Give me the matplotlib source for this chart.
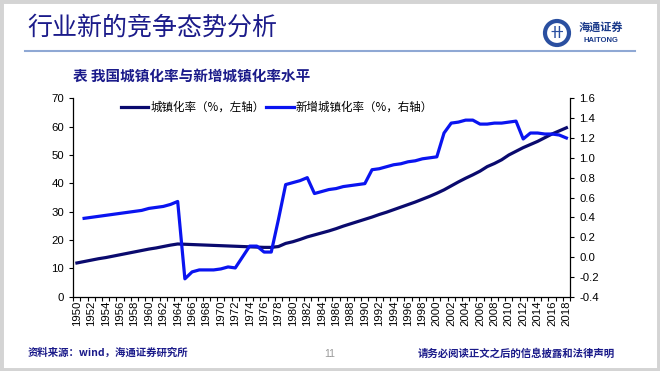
import numpy as np
import matplotlib
matplotlib.use("Agg")
import matplotlib.pyplot as plt
from matplotlib.lines import Line2D
from matplotlib.patches import Rectangle, Ellipse

plt.rcParams['font.family'] = ['Noto Sans CJK SC', 'DejaVu Sans']

# 年份
years = list(range(1950, 2019))

# 城镇化率（%，左轴）
urban_rate = [
    11.9, 12.4, 12.9, 13.4, 13.8, 14.3, 14.8, 15.3, 15.8, 16.3,   # 1950-1959
    16.8, 17.2, 17.7, 18.2, 18.6, 18.5, 18.4, 18.3, 18.2, 18.1,   # 1960-1969
    18.0, 17.9, 17.8, 17.7, 17.6, 17.5, 17.4, 17.4, 17.7, 18.8,   # 1970-1979
    19.4, 20.2, 21.1, 21.8, 22.5, 23.2, 24.0, 24.9, 25.7, 26.5,   # 1980-1989
    27.3, 28.1, 29.0, 29.8, 30.7, 31.6, 32.5, 33.4, 34.4, 35.4,   # 1990-1999
    36.5, 37.7, 39.1, 40.5, 41.8, 43.0, 44.3, 45.9, 47.0, 48.3,   # 2000-2009
    50.0, 51.3, 52.6, 53.7, 54.8, 56.1, 57.4, 58.5, 59.6,         # 2010-2018
]

# 新增城镇化率（%，右轴）
new_rate = [
    np.nan, 0.39, 0.40, 0.41, 0.42, 0.43, 0.44, 0.45, 0.46, 0.47,  # 1950-1959
    0.49, 0.50, 0.51, 0.53, 0.56, -0.22, -0.15, -0.13, -0.13, -0.13,  # 1960-1969
    -0.12, -0.10, -0.11, 0.00, 0.11, 0.11, 0.05, 0.05, 0.38, 0.73,  # 1970-1979
    0.75, 0.77, 0.80, 0.64, 0.66, 0.68, 0.69, 0.71, 0.72, 0.73,  # 1980-1989
    0.74, 0.88, 0.89, 0.91, 0.93, 0.94, 0.96, 0.97, 0.99, 1.00,  # 1990-1999
    1.01, 1.25, 1.35, 1.36, 1.38, 1.38, 1.34, 1.34, 1.35, 1.35,  # 2000-2009
    1.36, 1.37, 1.19, 1.25, 1.25, 1.24, 1.24, 1.23, 1.20,        # 2010-2018
]

navy = "#0a0a6e"
blue = "#0a14f0"
text_navy = "#1b1b8a"

W, H = 660, 371
fig = plt.figure(figsize=(6.6, 3.71), dpi=100)
fig.patch.set_facecolor("white")

# 灰色边框
fig.add_artist(Rectangle((0, 0), 1, 1, transform=fig.transFigure, fill=False,
                         edgecolor="#d4d4d4", linewidth=5))

# 标题
fig.text(27 / W, 1 - 28 / H, "行业新的竞争态势分析", fontsize=18,
         color=text_navy, va="center", ha="left")
fig.add_artist(Line2D([25 / W, 635 / W], [1 - 51 / H, 1 - 51 / H],
                      transform=fig.transFigure, color="#8fa8d4", linewidth=1.5))

# 标志
fig.add_artist(Ellipse((557 / W, 1 - 33 / H), 24 / W, 24 / H, transform=fig.transFigure,
                       facecolor="white", edgecolor="#2a4fa0", linewidth=3))
fig.text(557 / W, 1 - 33 / H, "卄", fontsize=9, color="#2a4fa0", ha="center",
         va="center", fontweight="bold")
fig.text(601 / W, 1 - 27 / H, "海通证券", fontsize=8, color="#1a3a8a",
         ha="center", va="center", style="italic", fontweight="bold")
fig.text(601 / W, 1 - 40 / H, "HAITONG", fontsize=5.5, color="#1a3a8a",
         ha="center", va="center", fontweight="bold", family="Liberation Sans")

# 图表标题
fig.text(73 / W, 1 - 76 / H, "表 我国城镇化率与新增城镇化率水平", fontsize=10.5,
         color=text_navy, va="center", ha="left", fontweight="bold")

# 页脚
fig.text(28 / W, 1 - 353 / H, "资料来源：wind，海通证券研究所", fontsize=7.5,
         color=text_navy, va="center", ha="left", fontweight="bold")
fig.text(330 / W, 1 - 354 / H, "11", fontsize=7.5, color="#999999",
         va="center", ha="center", family="Liberation Sans")
fig.text(615 / W, 1 - 353 / H, "请务必阅读正文之后的信息披露和法律声明", fontsize=7.5,
         color=text_navy, va="center", ha="right", fontweight="bold")

# 主图
ax = fig.add_axes([73.3 / W, 1 - 296.7 / H, (570 - 73.3) / W, (296.7 - 98.3) / H])
ax2 = ax.twinx()

ax.plot(years, urban_rate, color=navy, linewidth=2.3, solid_joinstyle="round")
ax2.plot(years, new_rate, color=blue, linewidth=2.3, solid_joinstyle="round")

ax.set_xlim(1949.5, 2018.5)
ax.set_ylim(0, 70)
ax.set_yticks(range(0, 71, 10))
ax2.set_ylim(-0.4, 1.6)
ax2.set_yticks(np.arange(-0.4, 1.61, 0.2))
ax2.set_yticklabels([f"{v:.1f}" for v in np.arange(-0.4, 1.61, 0.2)])

ax.set_xticks(years[::2])
ax.set_xticklabels([str(y) for y in years[::2]], rotation=90)
ax.set_xticks(np.arange(1949.5, 2019, 1), minor=True)
ax.tick_params(axis="x", which="major", length=0, pad=3)
ax.tick_params(axis="x", which="minor", length=3, direction="out", width=0.8)

for a in (ax, ax2):
    a.spines["top"].set_visible(False)
    for s in a.spines.values():
        s.set_linewidth(0.9)
    a.tick_params(axis="y", length=3, width=0.8, direction="out")
    for lab in a.get_yticklabels() + a.get_xticklabels():
        lab.set_family("Liberation Sans")
        lab.set_fontsize(8.2)
ax2.spines["left"].set_visible(False)
ax2.spines["bottom"].set_visible(False)
ax.spines["right"].set_visible(False)

handles = [Line2D([], [], color=navy, linewidth=2.3),
           Line2D([], [], color=blue, linewidth=2.3)]
ax.legend(handles, ["城镇化率（%，左轴）", "新增城镇化率（%，右轴）"],
          loc="upper center", bbox_to_anchor=(0.41, 1.04), ncol=2, frameon=False,
          fontsize=8.3, handlelength=2.4, handletextpad=0.2, columnspacing=0.1)

fig.savefig("out.png", dpi=100, facecolor="white")
